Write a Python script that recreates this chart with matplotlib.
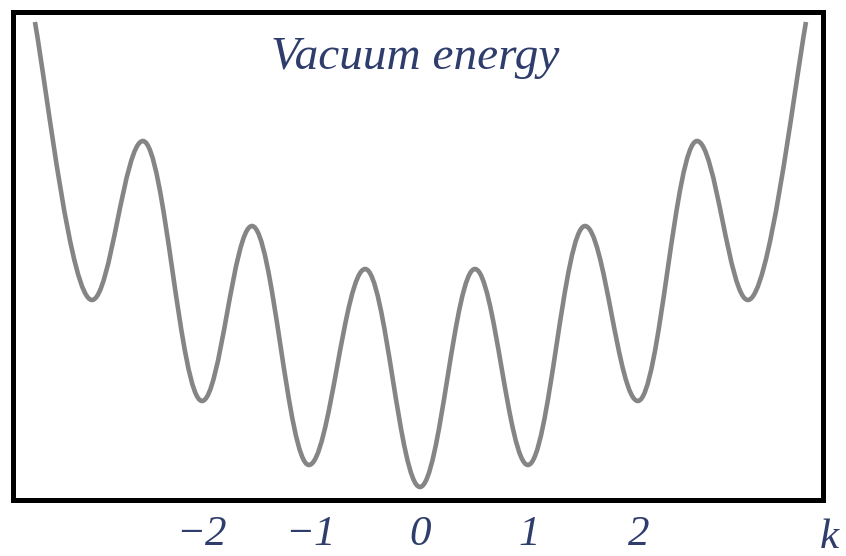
import matplotlib
matplotlib.use("Agg")
import matplotlib.pyplot as plt
from matplotlib.path import Path
from matplotlib.patches import PathPatch
import matplotlib.transforms as mtransforms

# ---- data (extrema of the vacuum-energy curve) ----
k_points = [-3.516, -2.995, -2.53, -1.99, -1.534, -1.014, -0.50, 0.0,
            0.502, 0.986, 1.507, 1.99, 2.53, 2.995, 3.525]
energy = [4.65, 1.87, 3.46, 0.86, 2.61, 0.22, 2.18, 0.00,
          2.18, 0.22, 2.61, 0.86, 3.46, 1.87, 4.65]
tick_values = [-2, -1, 0, 1, 2]
tick_labels = ["\u22122", "\u22121", "0", "1", "2"]
axis_name = "k"
axis_name_pos = 3.74
title_text = "Vacuum energy"

text_color = "#2e3d6c"
curve_color = "#858585"
serif = ["Liberation Serif", "DejaVu Serif"]

fig = plt.figure(figsize=(8.46, 5.56), dpi=100)
ax = fig.add_axes([12.5 / 846, 56 / 556, 810 / 846, 488.5 / 556])
ax.set_xlim(-3.721, 3.676)
ax.set_ylim(-0.13, 4.755)

# ---- smooth curve through the extrema (horizontal tangents at extrema) ----
end_slope = 6.3
end_dx = 0.12
end_h = 0.19
verts = [(k_points[0], energy[0])]
codes = [Path.MOVETO]
n = len(k_points)
for i in range(n - 1):
    k0, e0 = k_points[i], energy[i]
    k1, e1 = k_points[i + 1], energy[i + 1]
    if i == 0:
        c1 = (k0 + end_dx, e0 - end_slope * end_dx)
        c2 = (k1 - end_h, e1)
    elif i == n - 2:
        c1 = (k0 + end_h, e0)
        c2 = (k1 - end_dx, e1 - end_slope * end_dx)
    else:
        h = 0.364 * (k1 - k0)
        c1 = (k0 + h, e0)
        c2 = (k1 - h, e1)
    verts += [c1, c2, (k1, e1)]
    codes += [Path.CURVE4] * 3

patch = PathPatch(Path(verts, codes), facecolor="none", edgecolor=curve_color,
                  linewidth=3.3, capstyle="butt", joinstyle="round")
ax.add_patch(patch)

# ---- frame ----
for sp in ax.spines.values():
    sp.set_linewidth(3.6)
    sp.set_color("black")

ax.set_yticks([])
ax.set_xticks(tick_values)
ax.set_xticklabels(tick_labels, fontfamily=serif, fontstyle="italic",
                   fontsize=31, color=text_color)
ax.tick_params(axis="x", length=0, pad=11)

trans = mtransforms.blended_transform_factory(ax.transData, ax.transAxes)
ax.text(axis_name_pos, -0.038, axis_name, transform=trans, ha="center", va="top",
        fontfamily=serif, fontstyle="italic", fontsize=31, color=text_color,
        clip_on=False)

ax.text(0.497, 0.883, title_text, transform=ax.transAxes, ha="center",
        va="baseline", fontfamily=serif, fontstyle="italic", fontsize=34,
        color=text_color)

fig.savefig("out.png", dpi=100)
